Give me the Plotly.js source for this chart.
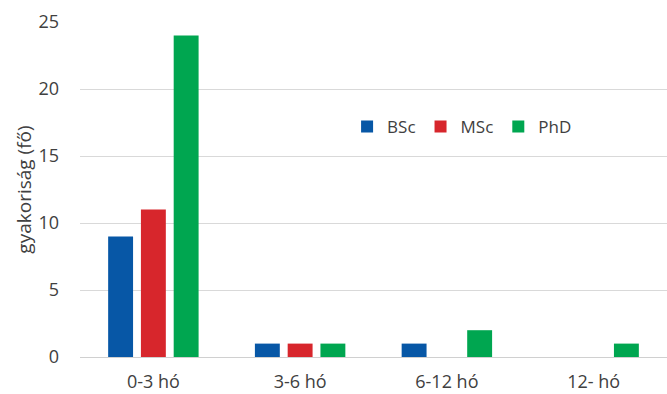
<!DOCTYPE html>
<html><head><meta charset="utf-8">
<script src="https://cdn.plot.ly/plotly-3.0.1.min.js"></script>
<style>html,body{margin:0;padding:0;background:#fff}</style>
</head><body><div id="c" style="width:667px;height:394px"></div>
<script>
const categories = ["0-3 hó", "3-6 hó", "6-12 hó", "12- hó"];
const bsc = [9, 1, 1, 0];
const msc = [11, 1, 0, 0];
const phd = [24, 1, 2, 1];
const yTicks = [0, 5, 10, 15, 20, 25];

const fam = "Open Sans, sans-serif";
const txt = "#404040";
const traces = [
  {type: "bar", name: "BSc", x: categories, y: bsc, marker: {color: "#0757a6"}},
  {type: "bar", name: "MSc", x: categories, y: msc, marker: {color: "#d7262c"}},
  {type: "bar", name: "PhD", x: categories, y: phd, marker: {color: "#00a650"}}
];
const layout = {
  width: 667, height: 394,
  margin: {l: 80, r: 0, t: 22, b: 37},
  paper_bgcolor: "#fff", plot_bgcolor: "#fff",
  font: {family: fam, size: 17, color: txt},
  barmode: "group", bargap: 0.33, bargroupgap: 0.24,
  showlegend: true,
  legend: {orientation: "h", x: 0.455, y: 0.687, xanchor: "left", yanchor: "middle",
           font: {family: fam, size: 17, color: txt},
           itemwidth: 30, tracegroupgap: 0, bgcolor: "rgba(0,0,0,0)"},
  xaxis: {type: "category", showgrid: false, showline: true, linecolor: "#d0d0d0", linewidth: 1,
          ticks: "", ticklabelstandoff: 8, tickfont: {family: fam, size: 18, color: txt}},
  yaxis: {range: [0, 25], tickvals: yTicks, showgrid: true, gridcolor: "#d9d9d9",
          zeroline: false, showline: false, ticks: "", ticklabelstandoff: 20,
          tickfont: {family: fam, size: 18, color: txt},
          title: {text: "gyakoriság (fő)", font: {family: fam, size: 19, color: txt}, standoff: 1}}
};
Plotly.newPlot("c", traces, layout, {displayModeBar: false, staticPlot: true});
</script></body></html>
